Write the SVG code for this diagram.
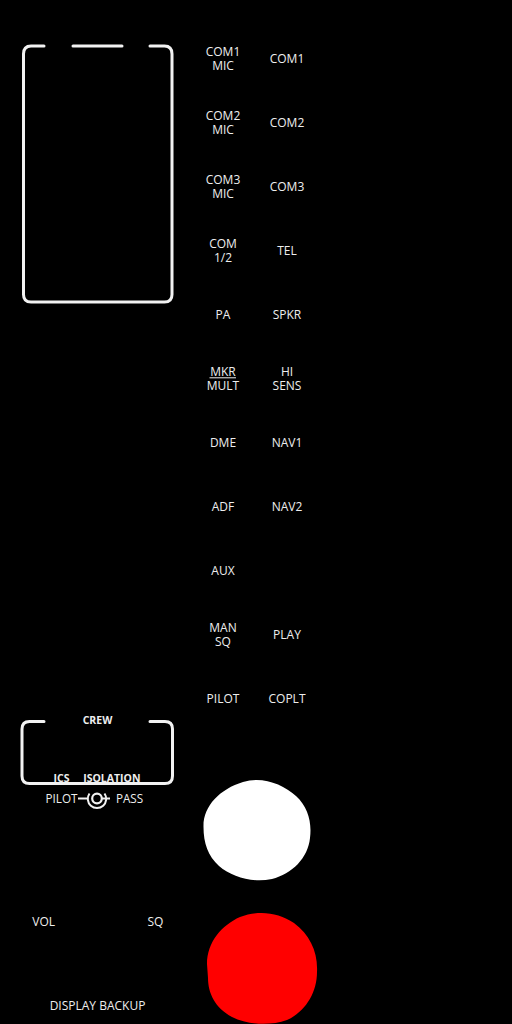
<svg xmlns="http://www.w3.org/2000/svg" width="512" height="1024" viewBox="0 0 512 1024">
<style>
.t{font-family:"Open Sans","DejaVu Sans",sans-serif;font-size:12px;fill:#eeeeee;text-anchor:middle}
.b{font-family:"Open Sans","DejaVu Sans",sans-serif;font-size:10.5px;font-weight:bold;fill:#eeeeee;text-anchor:middle}
.s{font-family:"Open Sans","DejaVu Sans",sans-serif;font-size:11.7px;fill:#eeeeee;text-anchor:middle}
.fr{fill:none;stroke:#f2f2f2;stroke-width:3;stroke-linecap:round;stroke-linejoin:round}
</style>
<rect width="512" height="1024" fill="#000"/>
<g id="display-frame">
<path class="fr" d="M44,46 H31 Q23.5,46 23.5,54 V294.5 Q23.5,302 31,302 H164.5 Q172,302 172,294.5 V54 Q172,46 164.5,46 H150"/>
<path class="fr" d="M73,46 H122"/>
</g>
<g id="buttons">
<text class="t" x="223" y="55.7">COM1</text><text class="t" x="223" y="69.7">MIC</text>
<text class="t" x="287" y="62.5">COM1</text>
<text class="t" x="223" y="119.7">COM2</text><text class="t" x="223" y="133.7">MIC</text>
<text class="t" x="287" y="126.5">COM2</text>
<text class="t" x="223" y="183.7">COM3</text><text class="t" x="223" y="197.7">MIC</text>
<text class="t" x="287" y="190.5">COM3</text>
<text class="t" x="223" y="247.7">COM</text><text class="t" x="223" y="261.7">1/2</text>
<text class="t" x="287" y="254.5">TEL</text>
<text class="t" x="223" y="318.5">PA</text>
<text class="t" x="287" y="318.5">SPKR</text>
<text class="t" x="223" y="375.7">MKR</text><text class="t" x="223" y="389.5">MULT</text>
<line x1="209.5" y1="377.8" x2="236" y2="377.8" stroke="#eeeeee" stroke-width="1"/>
<text class="t" x="287" y="375.7">HI</text><text class="t" x="287" y="389.5">SENS</text>
<text class="t" x="223" y="446.5">DME</text>
<text class="t" x="287" y="446.5">NAV1</text>
<text class="t" x="223" y="510.5">ADF</text>
<text class="t" x="287" y="510.5">NAV2</text>
<text class="t" x="223" y="574.5">AUX</text>
<text class="t" x="223" y="631.7">MAN</text><text class="t" x="223" y="645.7">SQ</text>
<text class="t" x="287" y="638.5">PLAY</text>
<text class="t" x="223" y="702.5">PILOT</text>
<text class="t" x="287" y="702.5">COPLT</text>
</g>
<g id="crew-ics">
<path class="fr" d="M44,721.5 H29.5 Q22,721.5 22,729 V776 Q22,783.5 29.5,783.5 H165 Q172.5,783.5 172.5,776 V729 Q172.5,721.5 165,721.5 H150"/>
<text class="b" x="97.5" y="723.5">CREW</text>
<text class="b" x="61.5" y="781.7">ICS</text>
<text class="b" x="111.8" y="781.7">ISOLATION</text>
</g>
<g id="pilot-pass-switch">
<text class="s" x="61.5" y="803.3">PILOT</text>
<text class="s" x="129.5" y="803.3">PASS</text>
<line x1="78" y1="798.5" x2="88" y2="798.5" stroke="#f2f2f2" stroke-width="2"/>
<line x1="102" y1="798.5" x2="110" y2="798.5" stroke="#f2f2f2" stroke-width="2"/>
<circle cx="97" cy="798.5" r="4.8" fill="none" stroke="#f2f2f2" stroke-width="2.2"/>
<path d="M89.5,793.5 A9.2,9.2 0 1 0 104.5,793.5" fill="none" stroke="#f2f2f2" stroke-width="2"/>
</g>
<g id="white-knob">
<path d="M203.5,827 C203,806 220,789 243,782 C262,776 283,784 296,796 C308,807 312,822 310,838 C308,858 292,874 272,879 C252,883 232,877 219,866 C208,856 203.5,843 203.5,827 Z" fill="#ffffff"/>
</g>
<g id="red-knob">
<path d="M207,964 C207,942 222,925 240,917 C258,910 278,912 294,923 C310,935 318,952 317,972 C317,993 305,1012 287,1020 C270,1026 248,1025 232,1017 C215,1008 208,993 208,978 Z" fill="#ff0000"/>
</g>
<g id="labels">
<text class="t" x="43.7" y="925.7">VOL</text>
<text class="t" x="155.5" y="925.7">SQ</text>
<text class="t" x="97.5" y="1010">DISPLAY BACKUP</text>
</g>
</svg>
